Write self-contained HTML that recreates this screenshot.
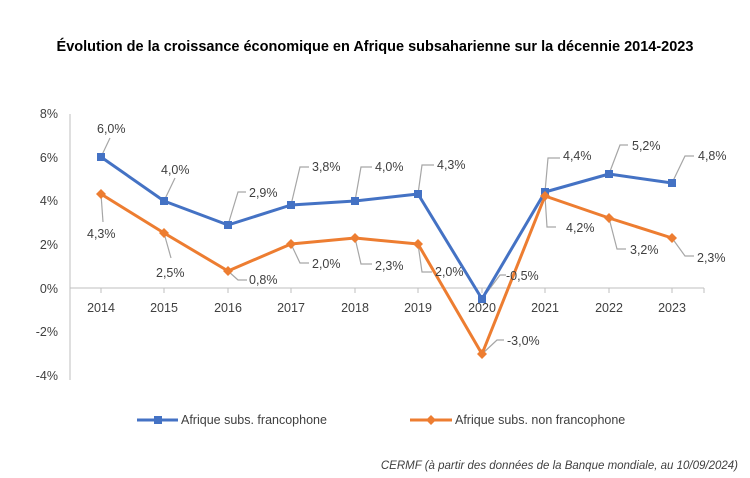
<!DOCTYPE html>
<html><head><meta charset="utf-8"><style>
body{margin:0;background:#fff;}
svg{display:block;font-family:"Liberation Sans",Calibri,sans-serif;}
</style></head><body>
<svg width="750" height="478" viewBox="0 0 750 478" xmlns="http://www.w3.org/2000/svg">
<rect width="750" height="478" fill="#fff"/>
<text x="375" y="51" text-anchor="middle" font-size="14.5" font-weight="bold" fill="#000">Évolution de la croissance économique en Afrique subsaharienne sur la décennie 2014-2023</text>
<g font-size="12.5" fill="#404040" text-anchor="end">
<text x="58" y="118">8%</text><text x="58" y="162">6%</text><text x="58" y="205">4%</text>
<text x="58" y="249">2%</text><text x="58" y="293">0%</text><text x="58" y="336">-2%</text><text x="58" y="380">-4%</text>
</g>
<line x1="70" y1="114" x2="70" y2="380" stroke="#bfbfbf"/>
<line x1="70" y1="288" x2="704" y2="288" stroke="#bfbfbf"/>
<g stroke="#bfbfbf">
<line x1="101" y1="288" x2="101" y2="293"/><line x1="164" y1="288" x2="164" y2="293"/><line x1="228" y1="288" x2="228" y2="293"/><line x1="291" y1="288" x2="291" y2="293"/><line x1="355" y1="288" x2="355" y2="293"/><line x1="418" y1="288" x2="418" y2="293"/><line x1="482" y1="288" x2="482" y2="293"/><line x1="545" y1="288" x2="545" y2="293"/><line x1="609" y1="288" x2="609" y2="293"/><line x1="672" y1="288" x2="672" y2="293"/><line x1="704" y1="288" x2="704" y2="293"/>
</g>
<g font-size="12.5" fill="#404040" text-anchor="middle">
<text x="101" y="312">2014</text><text x="164" y="312">2015</text><text x="228" y="312">2016</text><text x="291" y="312">2017</text><text x="355" y="312">2018</text><text x="418" y="312">2019</text><text x="482" y="312">2020</text><text x="545" y="312">2021</text><text x="609" y="312">2022</text><text x="672" y="312">2023</text>
</g>
<!-- leaders -->
<g stroke="#a6a6a6" fill="none" stroke-width="1.2">
<path d="M101 157 L110 138"/>
<path d="M164 201 L175 178"/>
<path d="M228 225 L238 192 L246 192"/>
<path d="M291 205 L300 167 L309 167"/>
<path d="M355 201 L361 167 L372 167"/>
<path d="M418 194 L422 165 L434 165"/>
<path d="M482 299 L500 275 L506 275"/>
<path d="M545 192 L548 158 L560 158"/>
<path d="M609 174 L620 145 L628 145"/>
<path d="M672 183 L685 156 L694 156"/>
<path d="M101 194 L103 222"/>
<path d="M164 233 L171 258"/>
<path d="M228 271 L238 280 L247 280"/>
<path d="M291 244 L300 263 L309 263"/>
<path d="M355 238 L361 264 L372 264"/>
<path d="M418 244 L422 272 L432 272"/>
<path d="M482 354 L497 340 L504 340"/>
<path d="M545 196 L547 227 L556 227"/>
<path d="M609 218 L617 249 L626 249"/>
<path d="M672 238 L685 256 L694 256"/>
</g>
<polyline fill="none" stroke="#ed7d31" stroke-width="3" stroke-linejoin="round" points="101,194 164,233 228,271 291,244 355,238 418,244 482,354 545,196 609,218 672,238"/>
<polyline fill="none" stroke="#4472c4" stroke-width="3" stroke-linejoin="round" points="101,157 164,201 228,225 291,205 355,201 418,194 482,299 545,192 609,174 672,183"/>
<g fill="#4472c4">
<rect x="97" y="153" width="8" height="8"/><rect x="160" y="197" width="8" height="8"/><rect x="224" y="221" width="8" height="8"/><rect x="287" y="201" width="8" height="8"/><rect x="351" y="197" width="8" height="8"/><rect x="414" y="190" width="8" height="8"/><rect x="478" y="295" width="8" height="8"/><rect x="541" y="188" width="8" height="8"/><rect x="605" y="170" width="8" height="8"/><rect x="668" y="179" width="8" height="8"/>
</g>
<g fill="#ed7d31">
<path d="M101 189l5 5-5 5-5-5z"/><path d="M164 228l5 5-5 5-5-5z"/><path d="M228 266l5 5-5 5-5-5z"/><path d="M291 239l5 5-5 5-5-5z"/><path d="M355 233l5 5-5 5-5-5z"/><path d="M418 239l5 5-5 5-5-5z"/><path d="M482 349l5 5-5 5-5-5z"/><path d="M545 191l5 5-5 5-5-5z"/><path d="M609 213l5 5-5 5-5-5z"/><path d="M672 233l5 5-5 5-5-5z"/>
</g>
<g font-size="12.5" fill="#404040">
<text x="97" y="133">6,0%</text>
<text x="161" y="174">4,0%</text>
<text x="249" y="197">2,9%</text>
<text x="312" y="171">3,8%</text>
<text x="375" y="171">4,0%</text>
<text x="437" y="169">4,3%</text>
<text x="506" y="280">-0,5%</text>
<text x="563" y="160">4,4%</text>
<text x="632" y="150">5,2%</text>
<text x="698" y="160">4,8%</text>
<text x="87" y="238">4,3%</text>
<text x="156" y="277">2,5%</text>
<text x="249" y="284">0,8%</text>
<text x="312" y="268">2,0%</text>
<text x="375" y="270">2,3%</text>
<text x="435" y="276">2,0%</text>
<text x="507" y="345">-3,0%</text>
<text x="566" y="232">4,2%</text>
<text x="630" y="254">3,2%</text>
<text x="697" y="262">2,3%</text>
</g>
<line x1="137" y1="420" x2="178" y2="420" stroke="#4472c4" stroke-width="3"/>
<rect x="154" y="416" width="8" height="8" fill="#4472c4"/>
<text x="181" y="424" font-size="12.5" fill="#404040">Afrique subs. francophone</text>
<line x1="410" y1="420" x2="452" y2="420" stroke="#ed7d31" stroke-width="3"/>
<path d="M431 415l5 5-5 5-5-5z" fill="#ed7d31"/>
<text x="455" y="424" font-size="12.5" fill="#404040">Afrique subs. non francophone</text>
<text x="738" y="469" text-anchor="end" font-size="11.5" font-style="italic" fill="#404040">CERMF (à partir des données de la Banque mondiale, au 10/09/2024)</text>
</svg>
</body></html>
